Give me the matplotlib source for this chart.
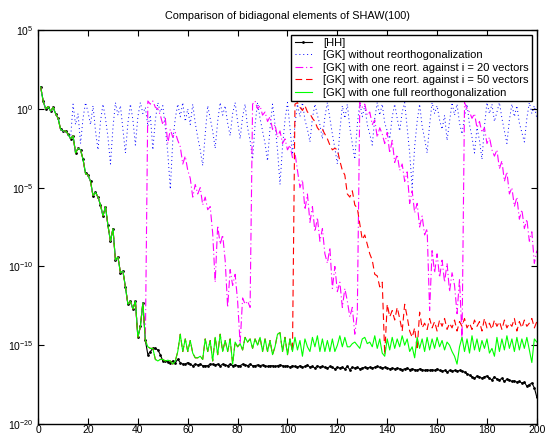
import matplotlib
matplotlib.use("Agg")
import matplotlib.pyplot as plt
import numpy as np

plt.rcParams['font.family'] = ['Liberation Sans', 'DejaVu Sans']
plt.rcParams['mathtext.fontset'] = 'custom'
plt.rcParams['mathtext.rm'] = 'Liberation Sans'

# log10 of the bidiagonal elements, index i = 1..200
hh_log = [1.4, 0.5, 0.0, 0.15, -0.15, 0.1, -0.3, -0.6, -1.3, -1.4,
          -1.4, -1.6, -1.9, -1.7, -2.8, -2.5, -2.6, -3.2, -4.1, -4.2,
          -4.6, -5.5, -5.3, -5.6, -6.1, -6.8, -6.2, -7.4, -8.4, -7.6,
          -9.6, -9.4, -10.4, -10.3, -11.3, -12.4, -12.2, -12.7, -12.2, -14.5,
          -13.8, -12.3, -14.7, -15.6, -15.4, -15.2, -15.2, -15.3, -15.6, -16.0,
          -16.0, -16.05, -16.1, -16.0, -16.1, -15.9, -16.1, -16.2, -16.2, -16.1,
          -16.2, -16.3, -16.2, -16.25, -16.2, -16.3, -16.3, -16.3, -16.2, -16.2,
          -16.25, -16.2, -16.3, -16.2, -16.25, -16.3, -16.2, -16.3, -16.25, -16.3,
          -16.3, -16.2, -16.25, -16.3, -16.2, -16.3, -16.3, -16.25, -16.3, -16.25,
          -16.3, -16.35, -16.3, -16.3, -16.35, -16.3, -16.25, -16.3, -16.35, -16.3,
          -16.4, -16.3, -16.35, -16.4, -16.3, -16.4, -16.35, -16.25, -16.4, -16.35,
          -16.45, -16.3, -16.4, -16.35, -16.4, -16.45, -16.35, -16.4, -16.5, -16.4,
          -16.45, -16.4, -16.5, -16.35, -16.55, -16.4, -16.45, -16.4, -16.5, -16.45,
          -16.4, -16.45, -16.4, -16.45, -16.4, -16.35, -16.4, -16.45, -16.4, -16.45,
          -16.5, -16.45, -16.5, -16.45, -16.5, -16.55, -16.5, -16.45, -16.55, -16.5,
          -16.55, -16.6, -16.5, -16.55, -16.6, -16.55, -16.6, -16.55, -16.6, -16.5,
          -16.6, -16.65, -16.6, -16.7, -16.6, -16.65, -16.6, -16.65, -16.6, -16.65,
          -16.7, -16.8, -16.9, -17.0, -17.1, -16.95, -17.0, -17.1, -17.0, -16.95,
          -17.1, -17.2, -17.0, -17.15, -17.2, -17.1, -17.3, -17.15, -17.2, -17.3,
          -17.25, -17.35, -17.3, -17.4, -17.35, -17.6, -17.5, -17.4, -17.7, -18.3]

# full reorthogonalization: equal to HH up to i = 43
full_tail = [-15.1, -15.2, -15.2, -15.9, -16.0, -15.9, -15.9, -16.0, -15.95, -16.0,
             -16.2, -16.0,
             -15.4, -14.3, -15.4, -14.6, -15.4, -14.7, -15.5, -15.8, -15.8, -15.7,
             -15.9, -14.6, -15.4, -14.7, -16.0, -14.5, -15.6, -14.3, -15.4, -14.7,
             -15.4, -14.6, -16.2, -14.8, -15.1, -14.9, -15.3, -14.5, -14.8, -14.6,
             -15.2, -14.6, -15.0, -14.5, -15.4, -14.6, -15.4, -14.7, -15.6, -15.1,
             -14.3, -14.2, -15.4, -14.5, -15.6, -14.6, -15.4, -14.5, -15.3, -14.7,
             -15.7, -14.6, -15.1, -15.4, -14.5, -15.1, -14.4, -15.4, -14.6, -15.4,
             -14.7, -15.4, -14.6, -15.4, -15.0, -14.4, -15.1, -14.5, -15.1, -15.1,
             -14.9, -14.8, -15.0, -15.2, -14.6, -14.5, -14.9, -14.8, -15.1, -14.4,
             -15.2, -14.6, -15.5, -15.7, -14.6, -15.3, -14.5, -15.2, -14.6, -15.1,
             -14.4, -15.0, -14.6, -15.4, -15.1, -15.8, -14.5, -15.2, -14.6, -15.4,
             -14.5, -15.3, -14.6, -15.2, -14.5, -15.1, -14.7, -15.3, -14.8, -15.0,
             -15.4, -15.7, -16.2, -15.1, -14.5, -15.4, -14.6, -15.5, -14.4, -15.3,
             -14.6, -15.4, -14.7, -15.2, -14.6, -15.5, -15.2, -15.7, -14.5, -15.4,
             -14.6, -15.3, -14.4, -15.2, -14.6, -15.4, -14.5, -15.3, -14.6, -15.2,
             -14.5, -15.3, -16.1, -14.6, -14.8]

# no reorthogonalization: equal to HH up to i = 13
none_tail = [0.3, -1.0, -0.3, -2.2, -0.6, 0.4, -0.2, -1.0, 0.2, -1.4,
             -2.6, -0.8, 0.3, -0.6, -1.8, -3.5, -1.2, 0.4, -0.4, 0.2,
             -1.3, -2.8, -0.9, 0.3, -0.7, -2.3, -0.5, 0.4, -0.3, 0.1,
             -1.1, -0.4, -2.6, -0.7, 0.4, -0.2, 0.2, -1.2, -2.8, -5.1,
             -2.0, -0.6, 0.3, -0.5, 0.4, -0.8, 0.0, -1.0, 0.3, -0.9,
             -1.8, -2.6, -3.6, -1.6, 0.2, -0.6, -1.4, -2.5, -0.8, 0.4,
             -0.4, 0.2, -0.9, -1.7, -0.3, 0.4, -0.8, -1.9, -0.5, 0.3,
             -1.2, -2.0, -3.2, -1.0, 0.4, -0.6, -1.4, -2.2, -3.3, -1.2,
             0.3, -1.0, -2.6, -4.8, -2.4, -0.7, 0.4, -1.2, -2.9, -1.0,
             0.3, -0.5, 0.4, -0.7, -1.3, -2.1, -0.6, 0.3, -0.4, -1.0,
             -1.9, -0.5, 0.4, -0.6, -1.6, -2.5, -3.5, -1.4, 0.2, -0.6,
             0.3, -1.2, -2.2, -3.2, -1.0, 0.4, -0.5, 0.2, -1.0, -1.6,
             -2.3, -0.6, 0.4, -0.4, 0.3, -0.9, -1.4, -1.9, -0.5, 0.3,
             -0.6, -1.4, -0.2, 0.4, -1.2, -2.8, -5.0, -2.4, -0.8, 0.3,
             -1.1, -1.9, -2.8, -1.0, 0.4, -0.3, 0.2, -0.7, -1.3, -0.4,
             -2.0, -0.8, 0.4, -0.4, 0.3, -0.9, -1.6, -0.5, 0.3, -1.0,
             -1.8, -2.8, -1.2, -2.0, -3.2, -1.1, 0.4, -0.3, 0.3, -0.8,
             -0.2, 0.4, -0.6, -1.4, -2.2, -0.7, 0.3, -0.5, 0.2, -0.9,
             -1.5, -2.1, -0.6, 0.4, -0.3, 0.2, -0.6]

# reort. against 20 vectors: equal to HH up to i = 43
i20_tail = [0.5, 0.3, 0.5, 0.1, 0.0, -0.4, -1.0, -0.6, -2.2, -1.3,
            -1.8, -1.5, -2.0, -2.4, -3.5, -3.0, -3.9, -4.4, -5.6, -4.8,
            -5.4, -5.0, -6.1, -5.6, -6.4, -6.2, -7.9, -11.0, -7.4, -8.6,
            -8.0, -9.6, -12.6, -10.2, -11.2, -10.5, -12.2, -14.9, -12.0, -12.4,
            -12.2, -12.6,
            0.3, 0.5, 0.0, 0.2, -0.4, -0.2, -0.8, -0.5, -1.3, -1.0,
            -1.8, -1.4, -2.2, -1.9, -2.6, -2.3, -3.1, -2.8, -3.9, -5.0,
            -4.5, -6.4, -5.4, -7.2, -6.2, -7.8, -6.9, -8.4, -7.6, -9.2,
            -9.8, -8.8, -11.4, -10.0, -11.6, -11.0, -12.6, -11.4, -12.2, -13.2,
            -12.6, -14.3, -13.0,
            0.4, 0.1, 0.3, -0.4, -0.2, -1.0, -0.7, -1.8, -1.2, -1.6,
            -2.2, -1.5, -2.8, -2.0, -3.4, -2.9, -3.9, -3.5, -4.6, -4.0,
            -6.0, -5.2, -6.6, -6.0, -7.5, -6.8, -8.0, -7.6, -12.8, -9.0,
            -10.4, -9.2, -10.7, -9.6, -11.0, -9.8, -11.6, -10.4, -11.2, -13.0,
            -10.8, -14.6,
            0.4, 0.0, -0.2, -0.6, -0.3, -1.2, -0.8, -1.5, -1.2, -2.2,
            -1.8, -2.6, -3.0, -2.6, -3.8, -3.3, -4.6, -4.0, -5.4, -5.0,
            -6.2, -5.6, -7.0, -6.4, -7.6, -7.0, -8.4, -7.8, -9.8, -9.0]

# reort. against 50 vectors: equal to full reorth. up to i = 102
i50_tail = [0.3, 0.4, 0.1, -0.1, 0.2, -0.2, -0.3, -0.6, -0.8, -1.2,
            -1.4, -1.3, -1.6, -1.9, -2.3, -2.6, -2.5, -2.6, -3.3, -3.9,
            -4.2, -5.4, -5.6, -5.2, -6.1, -6.3, -7.3, -8.3, -8.0, -8.6,
            -9.2, -9.6, -10.5, -10.6, -11.3, -11.0, -15.6, -12.4, -13.2, -12.8,
            -13.4, -12.6, -13.3, -14.1, -12.4, -13.2, -14.1, -14.5, -13.9, -15.3,
            -12.9, -13.9,
            -13.6, -14.0, -13.3, -13.9, -13.5, -14.1, -13.4, -13.8, -13.3, -14.0,
            -13.6, -13.9, -13.4, -14.1, -13.5, -13.8, -13.3, -13.9, -13.6, -14.0,
            -13.4, -13.8, -13.5, -14.1, -13.3, -13.9, -13.6, -14.0, -13.4, -13.8,
            -13.5, -14.0, -13.4, -13.9, -13.6, -13.8, -13.3, -14.1, -13.5, -13.9,
            -13.4, -13.8, -13.6, -13.3, -13.9, -13.5]

full_log = hh_log[:43] + full_tail
none_log = hh_log[:13] + none_tail
i20_log = hh_log[:43] + i20_tail
i50_log = full_log[:102] + i50_tail

labels = ['[HH]',
          '[GK] without reorthogonalization',
          '[GK] with one reort. against i = 20 vectors',
          '[GK] with one reort. against i = 50 vectors',
          '[GK] with one full reorthogonalization']

for s in (hh_log, full_log, none_log, i20_log, i50_log):
    assert len(s) == 200, len(s)

idx = np.arange(1, 201)

fig = plt.figure(figsize=(5.45, 4.36), dpi=100)
ax = fig.add_axes([0.070, 0.0275, 0.915, 0.9035])

ax.semilogy(idx, 10.0 ** np.array(hh_log), 'k.-', lw=0.8, ms=2, label=labels[0])
ax.semilogy(idx, 10.0 ** np.array(none_log), color='b', lw=0.7,
            dashes=(1, 3), label=labels[1])
ax.semilogy(idx, 10.0 ** np.array(i20_log), color=(1, 0, 1), lw=0.8,
            dashes=(7, 2.5, 1, 2.5), label=labels[2])
ax.semilogy(idx, 10.0 ** np.array(i50_log), color=(1, 0, 0), lw=0.8,
            dashes=(6, 3.5), label=labels[3])
ax.semilogy(idx, 10.0 ** np.array(full_log), '-', color=(0, 1, 0), lw=0.8,
            label=labels[4])

ax.set_xlim(0, 200)
ax.set_ylim(1e-20, 1e5)
ax.set_xticks(np.arange(0, 201, 20))
ax.set_yticks([1e-20, 1e-15, 1e-10, 1e-5, 1e0, 1e5])
ax.minorticks_off()
ax.tick_params(direction='in', top=True, right=True, labelsize=7.5, length=4, width=0.8)
ax.tick_params(axis='x', pad=1.0)
for sp in ax.spines.values():
    sp.set_linewidth(1.0)

ax.set_title('Comparison of bidiagonal elements of SHAW(100)', fontsize=7.8, pad=8)

leg = ax.legend(loc='upper right', fontsize=8, fancybox=False, framealpha=1,
                edgecolor='k', handlelength=1.6, handletextpad=1.0,
                labelspacing=0.22, borderaxespad=0.4, borderpad=0.3)
leg.get_frame().set_linewidth(1.0)

fig.savefig('out.png', dpi=100)
